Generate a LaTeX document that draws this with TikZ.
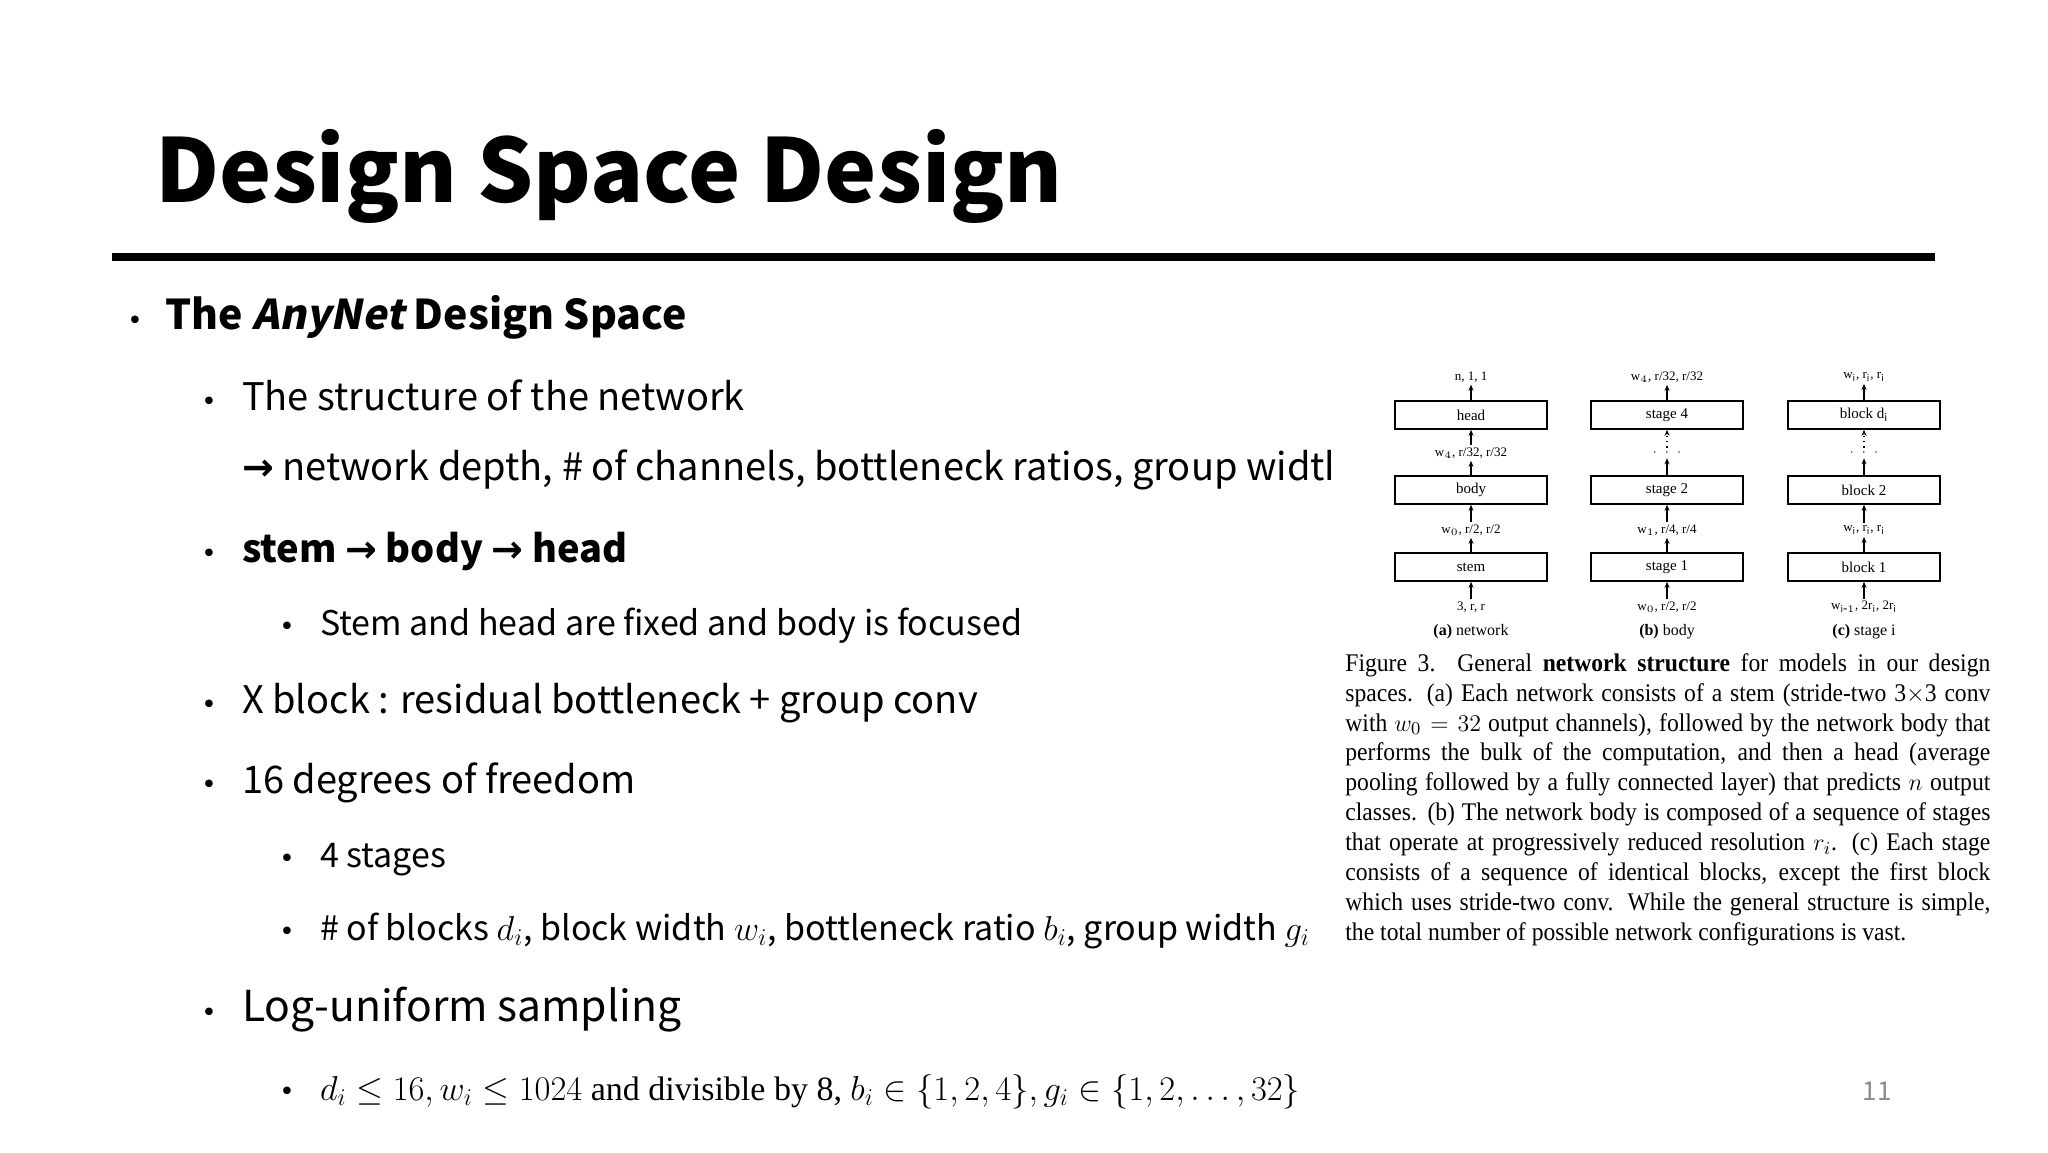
\documentclass[tikz,border=0pt]{standalone}
\usepackage{fontspec}
\setmainfont{Noto Sans CJK KR}
\newfontfamily\slnt[FakeSlant=0.2]{Noto Sans CJK KR}
\newfontfamily\fig{Liberation Serif}
\newfontfamily\capfont[FakeStretch=0.93]{Liberation Serif}
\newfontfamily\arw{DejaVu Sans}
\usetikzlibrary{arrows.meta}
\begin{document}
\begin{tikzpicture}[x=0.5pt,y=-0.5pt,
  lone/.style={anchor=base west,font=\fontsize{20.5}{24}\selectfont},
  ltwo/.style={anchor=base west,font=\fontsize{19}{23}\selectfont},
  lthree/.style={anchor=base west,font=\fontsize{17}{21}\selectfont},
  bul/.style={anchor=base,font=\arw\fontsize{13}{15}\selectfont},
  blk/.style={draw,line width=0.8pt,minimum width=76pt,minimum height=14pt,inner sep=0pt,font=\fig\fontsize{7.5}{8}\selectfont},
  lab/.style={inner sep=1pt,font=\fig\fontsize{6.5}{7}\selectfont},
  figcap/.style={inner sep=0pt,font=\fig\fontsize{8}{9}\selectfont},
  arr/.style={-{Stealth[length=3pt,width=2.5pt]},line width=0.7pt}]
\useasboundingbox (0,0) rectangle (2048,1152);
\node[anchor=base west,inner sep=0pt,font=\fontsize{44}{50}\selectfont\bfseries] (title) at (155,202) {Design Space Design};
\draw[line width=4pt] (112,257) -- (1935,257);
\node[bul] (b1) at (135,329) {•};
\node[lone] (t1) at (158,329) {\textbf{The {\slnt\bfseries AnyNet} Design Space}};
\node[bul] (b2) at (209,410) {•};
\node[ltwo] (t2) at (235,410) {The structure of the network};
\begin{scope}
\clip (230,430) rectangle (1330,500);
\node[ltwo] (t3) at (235,480) {{\arw\bfseries →} network depth, \# of channels, bottleneck ratios, group width};
\end{scope}
\node[bul] (b4) at (209,562) {•};
\node[ltwo] (t4) at (235,562) {\textbf{stem {\arw\bfseries →} body {\arw\bfseries →} head}};
\node[bul] (b5) at (287,635) {•};
\node[lthree] (t5) at (313,635) {Stem and head are fixed and body is focused};
\node[bul] (b6) at (209,713) {•};
\node[ltwo] (t6) at (235,713) {X block : residual bottleneck + group conv};
\node[bul] (b7) at (209,793) {•};
\node[ltwo] (t7) at (235,793) {16 degrees of freedom};
\node[bul] (b8) at (287,867) {•};
\node[lthree] (t8) at (313,867) {4 stages};
\node[bul] (b9) at (287,940) {•};
\node[lthree] (t9) at (313,940) {\# of blocks $d_i$, block width $w_i$, bottleneck ratio $b_i$, group width $g_i$};
\node[bul] (b10) at (209,1021) {•};
\node[ltwo,font=\fontsize{21.3}{25}\selectfont] (t10) at (235,1021) {Log-uniform sampling};
\node[bul] (b11) at (287,1100) {•};
\node[lthree] (t11) at (313,1100) {\fig $d_i\le 16, w_i\le 1024$ and divisible by 8, $b_i\in\{1,2,4\}, g_i\in\{1,2,\ldots,32\}$};
\node[anchor=base,font=\fontsize{13}{14}\selectfont,text=black!45] (pg) at (1877,1100) {11};
% figure
\foreach \c/\x/\a/\b/\cc/\lt/\lm/\lb/\lbb/\capt in {
  a/1471/head/body/stem/{n, 1, 1}/{w$_4$, r/32, r/32}/{w$_0$, r/2, r/2}/{3, r, r}/{\textbf{(a)} network},
  b/1667/stage 4/stage 2/stage 1/{w$_4$, r/32, r/32}/{$\cdot\;\cdot\;\cdot$}/{w$_1$, r/4, r/4}/{w$_0$, r/2, r/2}/{\textbf{(b)} body},
  c/1864/block d$_\mathrm{i}$/block 2/block 1/{w$_\mathrm{i}$, r$_\mathrm{i}$, r$_\mathrm{i}$}/{$\cdot\;\cdot\;\cdot$}/{w$_\mathrm{i}$, r$_\mathrm{i}$, r$_\mathrm{i}$}/{w$_{\mathrm{i}\mbox{-}1}$, 2r$_\mathrm{i}$, 2r$_\mathrm{i}$}/{\textbf{(c)} stage i}} {
  \node[blk] (\c1) at (\x,415) {\a};
  \node[blk] (\c2) at (\x,490) {\b};
  \node[blk] (\c3) at (\x,567) {\cc};
  \node[lab] (\c t) at (\x,377) {\lt};
  \node[lab] (\c m) at (\x,453) {\lm};
  \node[lab] (\c l) at (\x,530) {\lb};
  \node[lab] (\c b) at (\x,607) {\lbb};
  \node[figcap] (\c c) at (\x,632) {\capt};
  \draw[arr] (\c1) -- (\c t);
  \draw[arr] (\c3) -- (\c l);
  \draw[arr] (\c l) -- (\c2);
  \draw[arr] (\c b) -- (\c3);
  \draw[arr] (\c2) -- (\c m);
}
\draw[arr] (am) -- (a1);
\draw[arr,dotted] (bm) -- (b1);
\draw[arr,dotted] (cm) -- (c1);
\node[anchor=north west,text width=322.5pt,align=justify,inner sep=0pt,font=\capfont\fontsize{12.7}{14.95}\selectfont] (capt) at (1345,653)
{\sloppy\hyphenpenalty=10000 Figure 3. General \textbf{network structure} for models in our design\linebreak spaces. (a) Each network consists of a stem (stride-two 3$\times$3 conv\linebreak with $w_0=32$ output channels), followed by the network body that\linebreak performs the bulk of the computation, and then a head (average\linebreak pooling followed by a fully connected layer) that predicts $n$ output\linebreak classes. (b) The network body is composed of a sequence of stages\linebreak that operate at progressively reduced resolution $r_i$. (c) Each stage\linebreak consists of a sequence of identical blocks, except the first block\linebreak which uses stride-two conv. While the general structure is simple,\linebreak the total number of possible network configurations is vast.};
\end{tikzpicture}
\end{document}
